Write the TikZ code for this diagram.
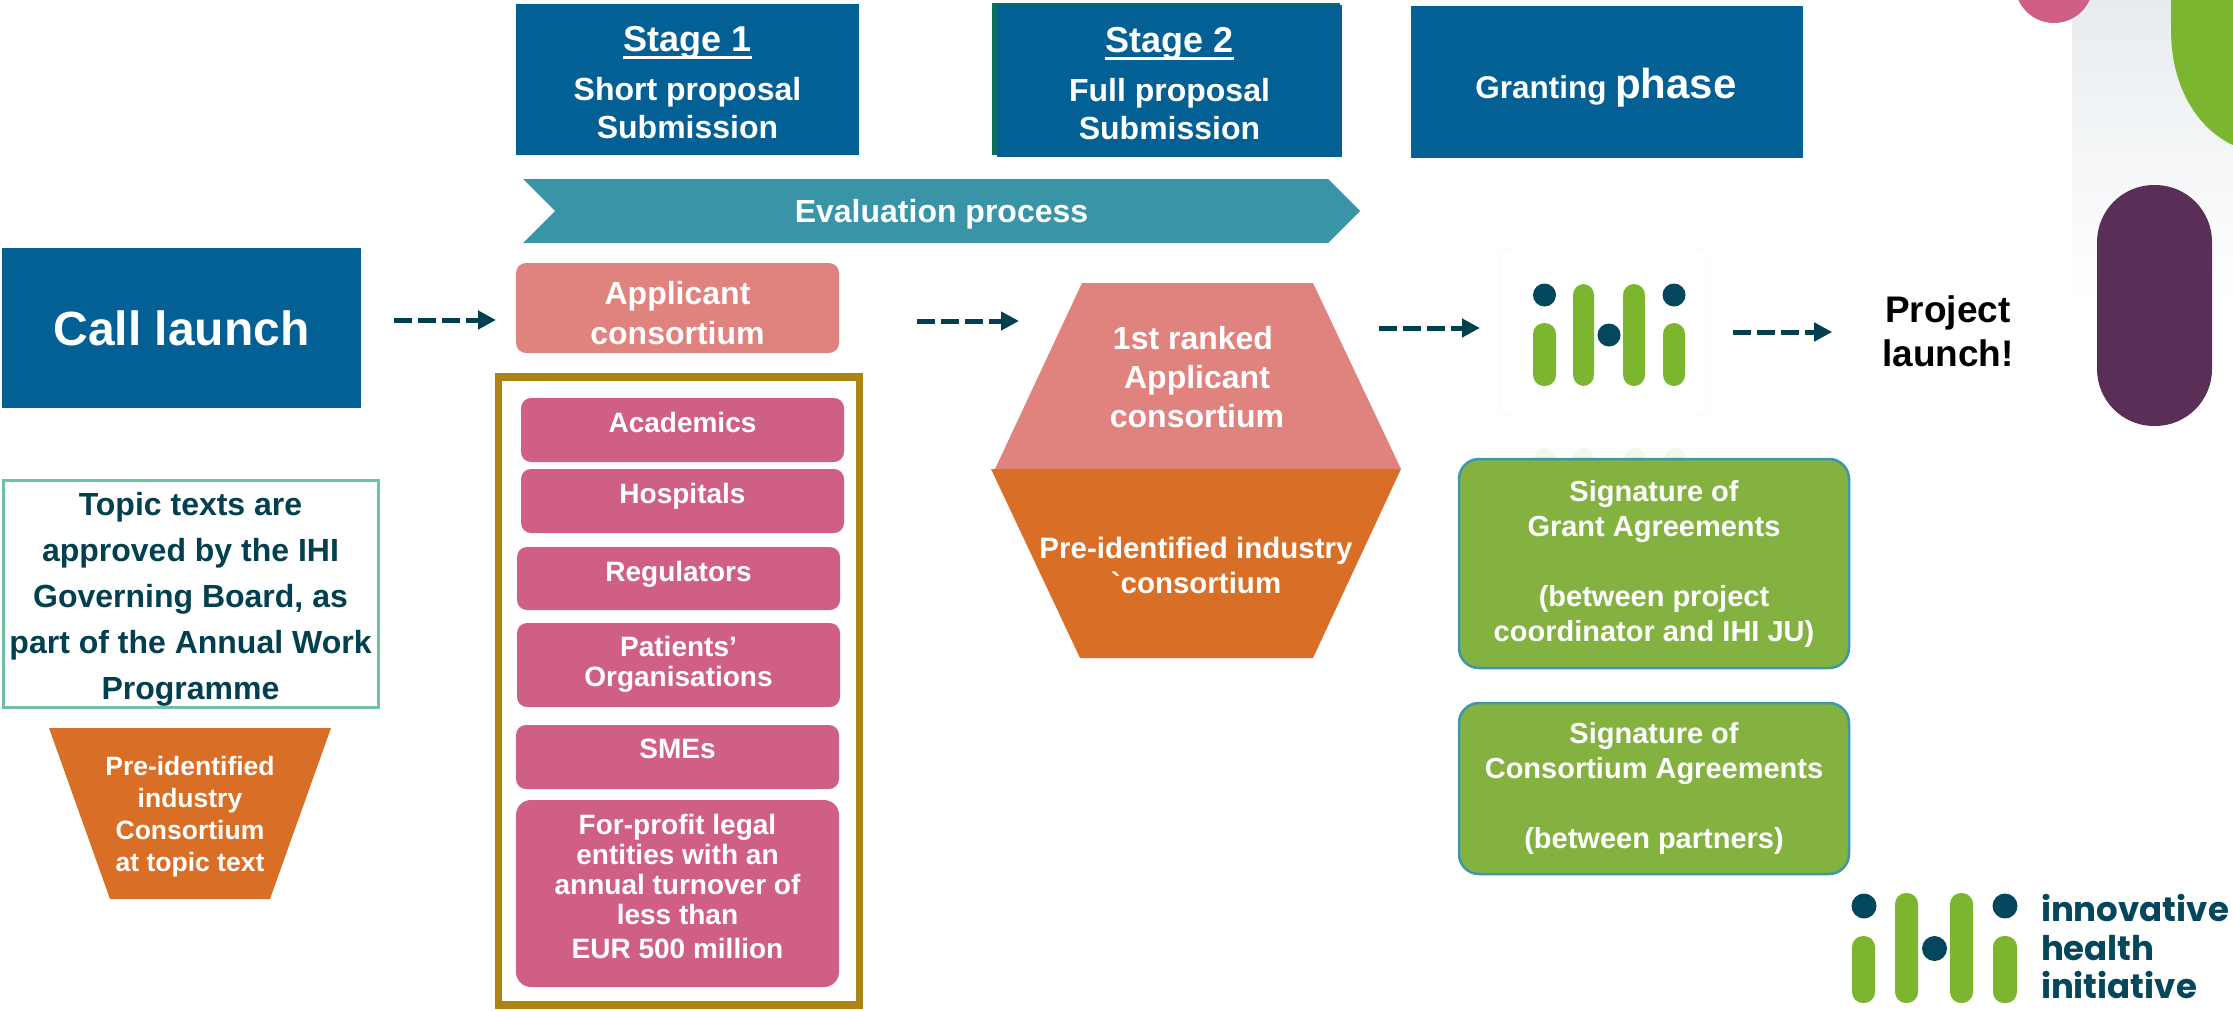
\documentclass[tikz,border=0pt]{standalone}
\usepackage{fontspec}
\setmainfont{Liberation Sans}
\newfontfamily\logofont{Poppins}
\newfontfamily\plainfont{Liberation Sans}[Ligatures=ResetAll]
\usetikzlibrary{arrows.meta,shapes.symbols}
\definecolor{ihiblue}{HTML}{036094}
\definecolor{stagegreen}{HTML}{0B6E5E}
\definecolor{evalteal}{HTML}{3994A7}
\definecolor{salmon}{HTML}{E0827E}
\definecolor{ihiorange}{HTML}{D96F27}
\definecolor{ihipink}{HTML}{CF5F87}
\definecolor{gold}{HTML}{AC8414}
\definecolor{signgreen}{HTML}{83B240}
\definecolor{signedge}{HTML}{3E96AB}
\definecolor{ihidark}{HTML}{04465C}
\definecolor{topicdark}{HTML}{03404F}
\definecolor{topicedge}{HTML}{6FC2A6}
\definecolor{logogreen}{HTML}{7CB62F}
\definecolor{ihipurple}{HTML}{5B2E57}
\definecolor{panelgrey}{HTML}{E8ECEF}
\newcommand{\fs}[2]{\fontsize{#1}{#2}\selectfont}
\newcommand{\thickul}[1]{\setbox0\hbox{#1}\rlap{\rule[-7.5pt]{\wd0}{3pt}}\box0}
\tikzset{
  every node/.style={inner sep=0pt,outer sep=0pt,font=\bfseries,align=center},
  pinkbox/.style={fill=ihipink,rounded corners=10pt,text=white},
  sign/.style={fill=signgreen,draw=signedge,line width=2.5pt,rounded corners=20pt,minimum width=390,text=white},
  flow/.style={draw=topicdark,line width=5pt,dash pattern=on 18pt off 6pt,-{Triangle[length=18pt,width=18pt]}},
  pinklabel/.style={text=white,font=\bfseries\fs{28}{30}},
  stagelabel/.style={text=white,font=\bfseries\fs{32}{38}},
}
\newcommand{\logopill}[4]{\fill[logogreen,rounded corners=11pt] (#1,#2) rectangle (#3,#4);}
\begin{document}
\begin{tikzpicture}[x=1pt,y=-1pt]
\useasboundingbox (0,0) rectangle (2233,1010);
\begin{scope}
\clip (0,0) rectangle (2233,1010);
\shade[top color=panelgrey,bottom color=white] (2072,0) rectangle (2233,300);
\fill[logogreen] (2171,0) -- (2171,30) .. controls (2171,90) and (2200,130) .. (2233,145) -- (2233,0) -- cycle;
\fill[ihipink] (2054,-16) circle (39);
\end{scope}
\fill[ihipurple,rounded corners=57pt] (2097,185) rectangle (2212,426);

% stage boxes
\node[fill=ihiblue,minimum width=343,minimum height=151,label={[stagelabel,yshift=-3pt]center:{{\fs{36}{38}\thickul{Stage 1}}\\[11pt]Short proposal\\Submission}}] (stage1) at (687.5,79.5) {};
\fill[stagegreen] (992,3) rectangle (1340,155);
\node[fill=ihiblue,minimum width=345,minimum height=152,label={[stagelabel,yshift=-3pt]center:{{\fs{36}{38}\thickul{Stage 2}}\\[11pt]Full proposal\\Submission}}] (stage2) at (1169.5,81) {};
\node[fill=ihiblue,minimum width=392,minimum height=152,text=white,label={[text=white,yshift=-6pt,xshift=-1pt]center:{\fs{31.5}{40}Granting \fs{42}{40}phase}}] (grant) at (1607,82) {};

% evaluation band
\node[shape=signal,signal from=west,signal to=east,signal pointer angle=90,fill=evalteal,minimum width=837,minimum height=64,label={[text=white,font=\bfseries\fs{32}{38},yshift=-3pt]center:Evaluation process}] (eval) at (941.5,211) {};

% left column
\node[fill=ihiblue,minimum width=359,minimum height=160,text=white,font=\bfseries\fs{48}{50}] (call) at (181.5,328) {Call launch};
\node[draw=topicedge,line width=3pt,fill=white,minimum width=375,minimum height=227,label={[text=topicdark,font=\bfseries\fs{32}{46},yshift=-6pt]center:{Topic texts are\\approved by the IHI\\Governing Board, as\\part of the Annual Work\\Programme}}] (topic) at (190.5,593.5) {};
\fill[ihiorange] (49,728) -- (331,728) -- (270,899) -- (110,899) -- cycle;
\node[text=white,font=\bfseries\fs{26.5}{32}] (pre1) at (190,817) {Pre-identified\\industry\\Consortium\\at topic text};

% applicant column
\node[fill=salmon,rounded corners=10pt,minimum width=323,minimum height=90,label={[text=white,font=\bfseries\fs{32}{40},yshift=-5pt]center:{Applicant\\consortium}}] (applicant) at (677.5,308) {};
\node[draw=gold,line width=7.5pt,minimum width=361,minimum height=628] (goldbox) at (679,691) {};
\node[pinkbox,minimum width=323,minimum height=64,label={[pinklabel,yshift=8pt]center:Academics}] (acad) at (682.5,430) {};
\node[pinkbox,minimum width=323,minimum height=64,label={[pinklabel,yshift=5pt]center:Hospitals}] (hosp) at (682.5,501) {};
\node[pinkbox,minimum width=323,minimum height=63,label={[pinklabel,yshift=4pt]center:Regulators}] (reg) at (678.5,578.5) {};
\node[pinkbox,minimum width=323,minimum height=84,label={[pinklabel,yshift=1pt]center:{Patients’\\Organisations}}] (pat) at (678.5,665) {};
\node[pinkbox,minimum width=323,minimum height=64,label={[pinklabel,yshift=8pt]center:SMEs}] (sme) at (677.5,757) {};
\node[pinkbox,rounded corners=15pt,minimum width=323,minimum height=187,label={[pinklabel,yshift=7pt]center:{For-profit legal\\entities with an\\annual turnover of\\less than\\[4pt]EUR 500 million}}] (forprofit) at (677.5,893.5) {};

% ranked
\fill[salmon] (1082,283) -- (1313,283) -- (1401,469) -- (995,469) -- cycle;
\node[text=white,font=\bfseries\fs{32}{39}] (ranked) at (1197,377) {1st ranked\hspace*{8pt}\\Applicant\\consortium};
\fill[ihiorange] (991,469) -- (1401,469) -- (1313,658) -- (1080,658) -- cycle;
\node[text=white,font=\bfseries\fs{29.5}{35}] (preind) at (1196,565) {Pre-identified industry\\{\plainfont\bfseries`}consortium};

% logo panel
\node[draw=black!2,fill=white,rounded corners=10pt,minimum width=207,minimum height=168,line width=1pt] (panel) at (1603.5,332) {};
\foreach \cx in {1545,1583,1635,1675}{\fill[logogreen!10] (\cx,459) circle (11);}
\fill[ihidark] (1544.5,295) circle (11.5) (1609,335) circle (11.5) (1674,295) circle (11.5);
\logopill{1533}{323}{1556}{386}
\logopill{1573}{284}{1594}{386}
\logopill{1623}{284}{1645}{386}
\logopill{1663}{323}{1685}{386}

% project launch
\node[text=black,font=\bfseries\fs{37}{44}] (project) at (1948,331) {Project\\launch!};

% signature boxes
\node[sign,minimum height=209,font=\bfseries\fs{29}{35}] (ga) at (1654,563.5) {Signature of\\Grant Agreements\\[35pt](between project\\coordinator and IHI JU)};
\node[sign,minimum height=171,font=\bfseries\fs{29}{35}] (ca) at (1654,788.5) {Signature of\\Consortium Agreements\\[35pt](between partners)};

% bottom logo
\fill[ihidark] (1864,906) circle (12.5) (1934.5,948.5) circle (12.5) (2005,906) circle (12.5);
\logopill{1852}{936}{1875}{1003}
\logopill{1895}{893}{1918}{1003}
\logopill{1950}{893}{1973}{1003}
\logopill{1993}{936}{2017}{1003}
\node[anchor=west,text=ihidark,align=left,font=\logofont\bfseries\fs{34}{38.5}] (logotext) at (2041,947) {innovative\\health\\initiative};

% connectors
\coordinate (rankedin) at (1019,321);
\coordinate (rankedout) at (1379,328);
\draw[flow] ([xshift=33pt,yshift=8pt]call.east) -- ([xshift=-20pt,yshift=-12pt]applicant.west);
\draw[flow] ([xshift=78pt,yshift=-13pt]applicant.east) -- (rankedin);
\draw[flow] (rankedout) -- ([xshift=-20pt,yshift=4pt]panel.west);
\draw[flow] ([xshift=26pt,yshift=0pt]panel.east) -- ([xshift=-50pt,yshift=-1pt]project.west);
\end{tikzpicture}
\end{document}
